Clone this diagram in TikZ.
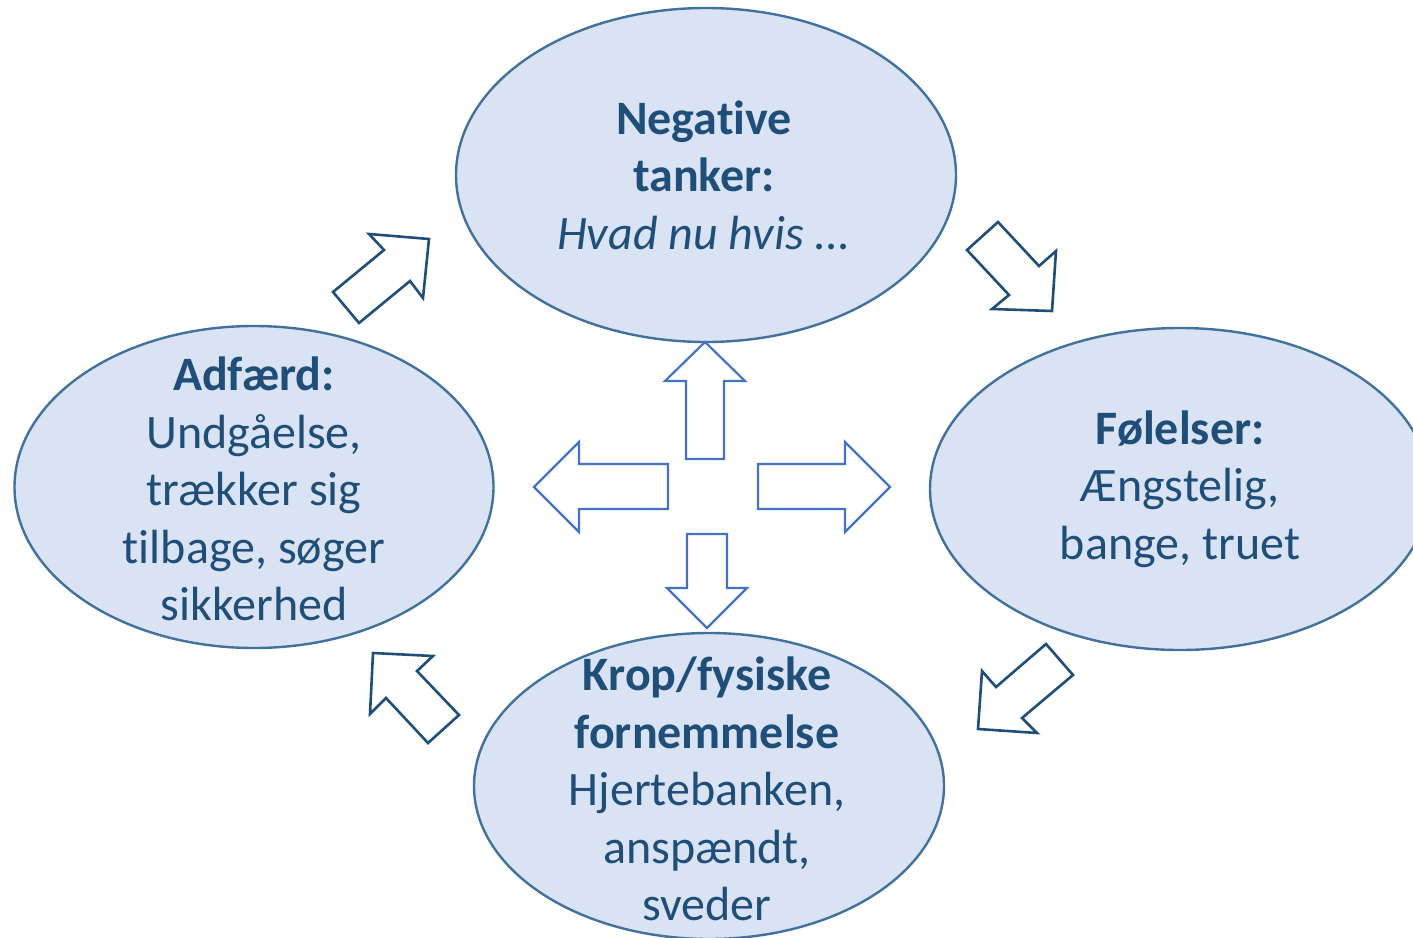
\documentclass[tikz,border=0pt]{standalone}
\usepackage{fontspec}
\setmainfont{Carlito}[Ligatures={NoCommon}]
\definecolor{txt}{HTML}{1F4E79}
\definecolor{ellfill}{HTML}{DAE3F3}
\definecolor{elldraw}{HTML}{41719C}
\definecolor{outarrow}{HTML}{1F4E79}
\definecolor{inarrow}{HTML}{4472C4}
\tikzset{
  bubble/.style={ellipse, draw=elldraw, fill=ellfill, line width=2.4pt, inner sep=0pt},
  label/.style={text=txt, align=center, font=\fontsize{48}{57.5}\selectfont, inner sep=0pt},
  outer/.style={draw=outarrow, line width=2.6pt, fill=white, line join=miter},
  inner/.style={draw=inarrow, line width=2.2pt, fill=white, line join=miter},
}
\usetikzlibrary{shapes.geometric}
\begin{document}
\begin{tikzpicture}[x=1pt,y=-1pt]
\useasboundingbox (0,0) rectangle (1413,937);
\clip (0,0) rectangle (1413,937);
% ellipses
\node[bubble, minimum width=500pt, minimum height=334pt] (top) at (706,175) {};
\node[bubble, minimum width=479pt, minimum height=322pt] (left) at (254,487) {};
\node[bubble, minimum width=500pt, minimum height=322pt] (right) at (1180,489) {};
\node[bubble, minimum width=470pt, minimum height=306pt] (bottom) at (709,786) {};
% texts
\node[label] (ttop) at (704,175) {\textbf{Negative}\\\textbf{tanker:}\\\textit{Hvad nu hvis ...}};
\node[label] (tleft) at (254,489) {\textbf{Adfærd:}\\Undgåelse,\\trækker sig\\tilbage, søger\\sikkerhed};
\node[label] (tright) at (1180,489) {\textbf{Følelser:}\\Ængstelig,\\bange, truet};
\node[label] (tbottom) at (707,789) {\textbf{Krop/fysiske}\\\textbf{fornemmelse}\\Hjertebanken,\\anspændt,\\sveder};
% outer cycle arrows
\draw[outer] (429,239) -- (369,234) -- (384,250) -- (333,292) -- (359,323) -- (410,281) -- (423,298) -- cycle;
\draw[outer] (998,222) -- (1039,266) -- (1056,251) -- (1052,311) -- (992,309) -- (1009,295) -- (967,250) -- cycle;
\draw[outer] (1046,644) -- (1073,675) -- (1022,718) -- (1037,733) -- (978,729) -- (982,671) -- (996,687) -- cycle;
\draw[outer] (373,653) -- (433,656) -- (417,671) -- (459,715) -- (428,743) -- (386,698) -- (370,714) -- cycle;
% central arrows
\draw[inner] (705,342) -- (745,381) -- (724,381) -- (724,459) -- (686,459) -- (686,381) -- (665,381) -- cycle;
\draw[inner] (534,487) -- (579,442) -- (579,464) -- (668,464) -- (668,509) -- (579,509) -- (579,532) -- cycle;
\draw[inner] (890,487) -- (845,442) -- (845,464) -- (758,464) -- (758,509) -- (845,509) -- (845,532) -- cycle;
\draw[inner] (707,628) -- (747,588) -- (727,588) -- (727,534) -- (687,534) -- (687,588) -- (667,588) -- cycle;
\end{tikzpicture}
\end{document}
